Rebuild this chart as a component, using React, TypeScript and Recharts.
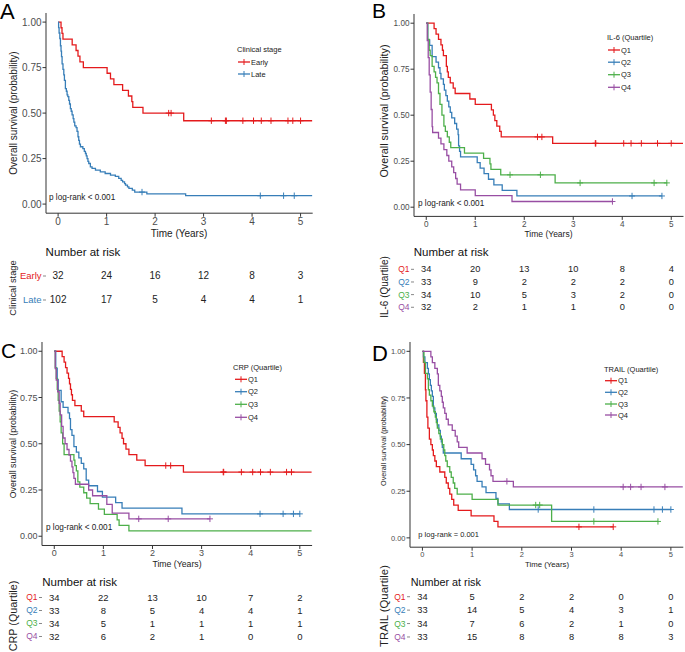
import React from 'react';
import { ComposedChart, Line, XAxis, YAxis, ScatterChart, Scatter } from 'recharts';

const FONT = '"Liberation Sans", Arial, Helvetica, sans-serif';
const RED = '#E41A1C';
const BLUE = '#377EB8';
const GREEN = '#4DAF4A';
const PURPLE = '#984EA3';

const yearTicks = [0, 1, 2, 3, 4, 5];
const survTicks = [0, 0.25, 0.5, 0.75, 1];
const riskTimes = [0, 1, 2, 3, 4, 5];
const quartiles = ['Q1', 'Q2', 'Q3', 'Q4'];

// ---------- Panel A : clinical stage ----------
const aGroups = ['Early', 'Late'];
const aEarlyT = [0, 0.06, 0.08, 0.10, 0.29, 0.37, 0.41, 0.45, 0.52, 1.01, 1.08, 1.15, 1.33, 1.45, 1.52, 1.54, 1.75, 2.59];
const aEarlyS = [1, 0.969, 0.938, 0.906, 0.875, 0.844, 0.813, 0.781, 0.75, 0.719, 0.688, 0.656, 0.625, 0.594, 0.563, 0.531, 0.5, 0.458];
const aEarlyC = [2.28, 2.33, 3.16, 3.45, 3.47, 3.81, 4.03, 4.19, 4.39, 4.74, 4.84, 5.0];
const aEarlyEnd = 5.24;
const aLateT = [0, 0.01, 0.02, 0.035, 0.048, 0.06, 0.07, 0.082, 0.1, 0.117, 0.13, 0.15, 0.17, 0.185, 0.2, 0.22, 0.235, 0.253, 0.27, 0.288, 0.31, 0.325, 0.343, 0.37, 0.39, 0.41, 0.425, 0.44, 0.46, 0.51, 0.54, 0.563, 0.58, 0.597, 0.615, 0.632, 0.665, 0.7, 0.77, 0.87, 0.97, 1.08, 1.18, 1.25, 1.3, 1.33, 1.37, 1.39, 1.43, 1.46, 1.53, 1.58, 1.83, 2.63];
const aLateS = [1, 0.97, 0.94, 0.91, 0.87, 0.84, 0.81, 0.77, 0.74, 0.71, 0.68, 0.635, 0.62, 0.6, 0.59, 0.57, 0.55, 0.525, 0.51, 0.49, 0.47, 0.45, 0.43, 0.42, 0.4, 0.37, 0.35, 0.33, 0.315, 0.305, 0.29, 0.278, 0.265, 0.25, 0.235, 0.223, 0.205, 0.196, 0.187, 0.177, 0.168, 0.159, 0.152, 0.141, 0.13, 0.122, 0.112, 0.104, 0.095, 0.086, 0.077, 0.066, 0.056, 0.046];
const aLateC = [1.73, 4.17, 4.65, 4.87];
const aLateEnd = 5.24;
const aRiskEarly = [32, 24, 16, 12, 8, 3];
const aRiskLate = [102, 17, 5, 4, 4, 1];

// ---------- Panel B : IL-6 ----------
const bQ1T = [0, 0.16, 0.2, 0.25, 0.3, 0.33, 0.35, 0.41, 0.43, 0.45, 0.49, 0.55, 0.59, 0.89, 1.0, 1.33, 1.37, 1.4, 1.44, 1.5, 1.53, 2.58];
const bQ1S = [1, 0.971, 0.941, 0.912, 0.882, 0.853, 0.824, 0.765, 0.735, 0.706, 0.676, 0.647, 0.618, 0.588, 0.559, 0.529, 0.5, 0.471, 0.441, 0.412, 0.382, 0.347];
const bQ1C = [2.27, 2.36, 3.45, 3.46, 4.03, 4.18, 4.39, 4.72, 5.0];
const bQ1End = 5.24;
const bQ2T = [0, 0.03, 0.07, 0.12, 0.2, 0.25, 0.28, 0.3, 0.35, 0.37, 0.4, 0.43, 0.46, 0.49, 0.52, 0.58, 0.62, 0.65, 0.66, 0.68, 0.7, 1.04, 1.1, 1.18, 1.27, 1.38, 1.55, 1.85];
const bQ2S = [1, 0.909, 0.879, 0.818, 0.788, 0.758, 0.727, 0.697, 0.667, 0.636, 0.606, 0.576, 0.545, 0.515, 0.485, 0.455, 0.424, 0.394, 0.333, 0.303, 0.273, 0.242, 0.212, 0.182, 0.152, 0.121, 0.091, 0.061];
const bQ2C = [4.2, 4.81];
const bQ2End = 4.81;
const bQ3T = [0, 0.03, 0.06, 0.08, 0.12, 0.16, 0.19, 0.22, 0.25, 0.28, 0.32, 0.36, 0.39, 0.43, 0.47, 0.5, 0.78, 1.17, 1.3, 1.32, 1.52, 2.63];
const bQ3S = [1, 0.912, 0.853, 0.824, 0.765, 0.735, 0.706, 0.676, 0.618, 0.559, 0.5, 0.441, 0.412, 0.382, 0.353, 0.324, 0.294, 0.265, 0.235, 0.206, 0.176, 0.132];
const bQ3C = [1.71, 2.33, 3.14, 4.65, 4.91];
const bQ3End = 4.91;
const bQ4T = [0, 0.02, 0.04, 0.06, 0.08, 0.1, 0.12, 0.13, 0.25, 0.3, 0.36, 0.42, 0.46, 0.52, 0.56, 0.6, 0.63, 0.7, 1.0, 1.75];
const bQ4S = [1, 0.906, 0.813, 0.719, 0.625, 0.531, 0.438, 0.406, 0.375, 0.344, 0.313, 0.281, 0.25, 0.219, 0.188, 0.156, 0.125, 0.094, 0.063, 0.031];
const bQ4C = [3.8];
const bQ4End = 3.8;
const bRisk = [
  [34, 20, 13, 10, 8, 4],
  [33, 9, 2, 2, 2, 0],
  [34, 10, 5, 3, 2, 0],
  [32, 2, 1, 1, 0, 0],
];

// ---------- Panel C : CRP ----------
const cQ1T = [0, 0.16, 0.2, 0.23, 0.26, 0.29, 0.31, 0.33, 0.35, 0.37, 0.42, 0.55, 0.6, 1.22, 1.3, 1.34, 1.38, 1.41, 1.46, 1.52, 1.68, 1.85, 2.63];
const cQ1S = [1, 0.971, 0.941, 0.912, 0.882, 0.853, 0.824, 0.794, 0.765, 0.735, 0.706, 0.676, 0.647, 0.618, 0.588, 0.559, 0.529, 0.5, 0.471, 0.441, 0.412, 0.382, 0.347];
const cQ1C = [2.27, 2.37, 3.44, 3.45, 3.81, 4.04, 4.2, 4.4, 4.73, 4.83];
const cQ1End = 5.24;
const cQ2T = [0, 0.03, 0.06, 0.08, 0.14, 0.18, 0.28, 0.31, 0.33, 0.36, 0.4, 0.45, 0.5, 0.55, 0.6, 0.65, 0.7, 0.88, 0.98, 1.25, 1.38, 2.6];
const cQ2S = [1, 0.909, 0.848, 0.788, 0.727, 0.697, 0.667, 0.636, 0.576, 0.545, 0.485, 0.455, 0.424, 0.394, 0.364, 0.303, 0.273, 0.242, 0.212, 0.182, 0.152, 0.121];
const cQ2C = [4.19, 4.66, 4.87, 5.0];
const cQ2End = 5.0;
const cQ3T = [0, 0.02, 0.04, 0.06, 0.08, 0.1, 0.12, 0.14, 0.17, 0.2, 0.4, 0.42, 0.45, 0.48, 0.52, 0.6, 0.66, 0.73, 0.9, 1.02, 1.28, 1.32, 1.52];
const cQ3S = [1, 0.912, 0.853, 0.794, 0.735, 0.676, 0.618, 0.559, 0.5, 0.441, 0.412, 0.382, 0.353, 0.294, 0.265, 0.235, 0.206, 0.176, 0.147, 0.118, 0.088, 0.059, 0.029];
const cQ3C: number[] = [];
const cQ3End = 5.24;
const cQ4T = [0, 0.02, 0.04, 0.07, 0.1, 0.12, 0.15, 0.18, 0.22, 0.26, 0.3, 0.33, 0.36, 0.38, 0.4, 0.43, 0.7, 0.78, 1.07, 1.18, 1.52];
const cQ4S = [1, 0.906, 0.844, 0.781, 0.719, 0.656, 0.594, 0.531, 0.5, 0.469, 0.438, 0.406, 0.375, 0.344, 0.313, 0.281, 0.25, 0.219, 0.172, 0.125, 0.094];
const cQ4C = [1.72, 2.32, 3.17];
const cQ4End = 3.17;
const cRisk = [
  [34, 22, 13, 10, 7, 2],
  [33, 8, 5, 4, 4, 1],
  [34, 5, 1, 1, 1, 1],
  [32, 6, 2, 1, 0, 0],
];

// ---------- Panel D : TRAIL ----------
const dQ1T = [0, 0.02, 0.04, 0.06, 0.07, 0.09, 0.11, 0.14, 0.17, 0.2, 0.22, 0.25, 0.28, 0.35, 0.45, 0.48, 0.52, 0.55, 0.59, 0.63, 0.72, 0.98, 1.44, 1.52];
const dQ1S = [1, 0.941, 0.882, 0.794, 0.735, 0.647, 0.588, 0.529, 0.5, 0.471, 0.441, 0.412, 0.382, 0.353, 0.324, 0.294, 0.265, 0.235, 0.206, 0.176, 0.147, 0.118, 0.088, 0.059];
const dQ1C = [3.15, 3.84];
const dQ1End = 3.84;
const dQ2T = [0, 0.02, 0.05, 0.1, 0.12, 0.14, 0.16, 0.18, 0.2, 0.22, 0.25, 0.28, 0.3, 0.33, 0.36, 0.38, 0.4, 0.42, 0.78, 0.98, 1.03, 1.07, 1.1, 1.2, 1.28, 1.48, 1.52, 1.75];
const dQ2S = [1, 0.97, 0.939, 0.909, 0.879, 0.848, 0.818, 0.788, 0.758, 0.697, 0.667, 0.636, 0.606, 0.576, 0.545, 0.515, 0.485, 0.455, 0.424, 0.394, 0.364, 0.333, 0.303, 0.273, 0.242, 0.212, 0.182, 0.152];
const dQ2C = [2.33, 3.45, 4.66, 4.83, 5.0];
const dQ2End = 5.0;
const dQ3T = [0, 0.03, 0.06, 0.1, 0.12, 0.14, 0.17, 0.2, 0.23, 0.26, 0.28, 0.3, 0.33, 0.36, 0.4, 0.43, 0.45, 0.47, 0.5, 0.55, 0.58, 0.62, 0.65, 0.7, 1.0, 1.52, 2.6];
const dQ3S = [1, 0.941, 0.882, 0.853, 0.794, 0.765, 0.735, 0.706, 0.676, 0.647, 0.618, 0.588, 0.559, 0.529, 0.5, 0.471, 0.441, 0.412, 0.382, 0.353, 0.324, 0.294, 0.265, 0.235, 0.206, 0.176, 0.088];
const dQ3C = [2.28, 2.36, 3.45, 4.74];
const dQ3End = 4.74;
const dQ4T = [0, 0.17, 0.2, 0.25, 0.3, 0.32, 0.35, 0.38, 0.4, 0.42, 0.45, 0.48, 0.52, 0.6, 0.66, 0.7, 0.73, 0.9, 1.2, 1.27, 1.35, 1.38, 1.42, 1.83];
const dQ4S = [1, 0.97, 0.939, 0.909, 0.879, 0.818, 0.788, 0.758, 0.727, 0.697, 0.667, 0.636, 0.606, 0.576, 0.545, 0.515, 0.485, 0.455, 0.424, 0.394, 0.364, 0.333, 0.303, 0.273];
const dQ4C = [1.7, 4.04, 4.19, 4.4, 4.88];
const dQ4End = 5.24;
const dRisk = [
  [34, 5, 2, 2, 0, 0],
  [33, 14, 5, 4, 3, 1],
  [34, 7, 6, 2, 1, 0],
  [33, 15, 8, 8, 8, 3],
];

// ---------- helpers ----------
type Series = { name: string; color: string; t: number[]; s: number[]; cens: number[]; end: number };
type Pt = { t: number; s: number; c: boolean };

function stepValue(se: Series, x: number) {
  let v = se.s[0];
  for (let i = 0; i < se.t.length; i++) if (se.t[i] <= x) v = se.s[i];
  return v;
}

function buildLine(se: Series): Pt[] {
  const pts: Pt[] = se.t.map((t, i) => ({ t, s: se.s[i], c: false }));
  se.cens.forEach((x) => pts.push({ t: x, s: stepValue(se, x), c: true }));
  pts.push({ t: se.end, s: stepValue(se, se.end), c: false });
  pts.sort((a, b) => a.t - b.t);
  return pts;
}

const mk = (name: string, color: string, t: number[], s: number[], cens: number[], end: number): Series => ({ name, color, t, s, cens, end });

const qColors = [RED, BLUE, GREEN, PURPLE];

const panelA = {
  series: [mk('Early', RED, aEarlyT, aEarlyS, aEarlyC, aEarlyEnd), mk('Late', BLUE, aLateT, aLateS, aLateC, aLateEnd)],
  groups: aGroups, colors: [RED, BLUE], risk: [aRiskEarly, aRiskLate],
  legendTitle: 'Clinical stage', tableTitle: 'Clinical stage', letter: 'A', pval: 'p log-rank < 0.001',
};
const panelB = {
  series: [mk('Q1', RED, bQ1T, bQ1S, bQ1C, bQ1End), mk('Q2', BLUE, bQ2T, bQ2S, bQ2C, bQ2End), mk('Q3', GREEN, bQ3T, bQ3S, bQ3C, bQ3End), mk('Q4', PURPLE, bQ4T, bQ4S, bQ4C, bQ4End)],
  groups: quartiles, colors: qColors, risk: bRisk,
  legendTitle: 'IL-6 (Quartile)', tableTitle: 'IL-6 (Quartile)', letter: 'B', pval: 'p log-rank < 0.001',
};
const panelC = {
  series: [mk('Q1', RED, cQ1T, cQ1S, cQ1C, cQ1End), mk('Q2', BLUE, cQ2T, cQ2S, cQ2C, cQ2End), mk('Q3', GREEN, cQ3T, cQ3S, cQ3C, cQ3End), mk('Q4', PURPLE, cQ4T, cQ4S, cQ4C, cQ4End)],
  groups: quartiles, colors: qColors, risk: cRisk,
  legendTitle: 'CRP (Quartile)', tableTitle: 'CRP (Quartile)', letter: 'C', pval: 'p log-rank < 0.001',
};
const panelD = {
  series: [mk('Q1', RED, dQ1T, dQ1S, dQ1C, dQ1End), mk('Q2', BLUE, dQ2T, dQ2S, dQ2C, dQ2End), mk('Q3', GREEN, dQ3T, dQ3S, dQ3C, dQ3End), mk('Q4', PURPLE, dQ4T, dQ4S, dQ4C, dQ4End)],
  groups: quartiles, colors: qColors, risk: dRisk,
  legendTitle: 'TRAIL (Quartile)', tableTitle: 'TRAIL (Quartile)', letter: 'D', pval: 'p log-rank = 0.001',
};

// layout (pixel geometry only)
const layoutA = {
  x0: 45.6, x1: 312.3, y0: 13.2, y1: 213.4, tickFs: 10,
  letter: { x: 0, y: 19, fs: 22 }, yTitle: { x: 13, y: 113, fs: 10 }, xTitle: { x: 179, y: 233, fs: 10 },
  pval: { x: 49, y: 197, fs: 8.2 },
  legend: { tx: 237, ty: 49.5, gx: 238, lx: 251, ys: [62, 74], fs: 7.5 },
  nar: { x: 45.6, y: 252, fs: 11.5 },
  table: { rt: 264, rb: 312, labFs: 9.5, numFs: 10 }, tTitle: { x: 12.5, y: 288, fs: 9.3 },
};
const layoutB = {
  x0: 413.75, x1: 683.25, y0: 13.5, y1: 215.9, tickFs: 8.2,
  letter: { x: 372, y: 18, fs: 21 }, yTitle: { x: 384, y: 111, fs: 10.8 }, xTitle: { x: 548.5, y: 234, fs: 8.5 },
  pval: { x: 418, y: 203.5, fs: 8.2 },
  legend: { tx: 607, ty: 37.7, gx: 608, lx: 621, ys: [50, 62.2, 74.7, 87.3], fs: 7.5 },
  nar: { x: 413.75, y: 251.7, fs: 11.5 },
  table: { rt: 262.7, rb: 313.3, labFs: 8.5, numFs: 9.3 }, tTitle: { x: 384, y: 287, fs: 10 },
};
const layoutC = {
  x0: 42, x1: 312.1, y0: 342.45, y1: 545.95, tickFs: 9,
  letter: { x: 1, y: 358, fs: 21 }, yTitle: { x: 12.5, y: 444, fs: 8.8 }, xTitle: { x: 177, y: 564.3, fs: 8.7 },
  pval: { x: 46, y: 527.7, fs: 8.2 },
  legend: { tx: 233, ty: 367.7, gx: 235, lx: 248, ys: [379.3, 391.7, 404.3, 417.3], fs: 7.5 },
  nar: { x: 42.3, y: 581.7, fs: 11.5 },
  table: { rt: 591.2, rb: 643.2, labFs: 8.5, numFs: 9.5 }, tTitle: { x: 12.5, y: 616, fs: 10.8 },
};
const layoutD = {
  x0: 410.3, x1: 683.6, y0: 342.4, y1: 547.6, tickFs: 7.5,
  letter: { x: 372, y: 361, fs: 22 }, yTitle: { x: 383.5, y: 441, fs: 7.3 }, xTitle: { x: 547, y: 564, fs: 7.8 },
  pval: { x: 418.3, y: 534.3, fs: 7.5 },
  legend: { tx: 604, ty: 369.3, gx: 605, lx: 618, ys: [380.7, 392.3, 404, 415], fs: 7.5 },
  nar: { x: 410.7, y: 581.7, fs: 10.8 },
  table: { rt: 590.3, rb: 644, labFs: 8.5, numFs: 9.3 }, tTitle: { x: 384, y: 606, fs: 11.3 },
};

const YW = 40;

function censorDot(color: string) {
  return (p: any) => {
    const { cx, cy, payload, index } = p;
    if (!payload || !payload.c || cx == null || cy == null) return <g key={`n${index}`} />;
    return (
      <path key={`c${index}`} d={`M${cx - 3},${cy}H${cx + 3}M${cx},${cy - 3.2}V${cy + 3.2}`} stroke={color} strokeWidth={1} fill="none" />
    );
  };
}

function KMChart({ L, series }: { L: any; series: Series[] }) {
  const xh = 24, mt = 4, mr = 2;
  const W = L.x1 - L.x0 + YW + mr;
  const H = L.y1 - L.y0 + mt + xh;
  const tickStyle = { fill: '#4d4d4d', fontSize: L.tickFs, fontFamily: FONT };
  return (
    <div style={{ position: 'absolute', left: L.x0 - YW, top: L.y0 - mt }}>
      <ComposedChart width={W} height={H} margin={{ top: mt, right: mr, bottom: 0, left: 0 }}>
        <XAxis type="number" dataKey="t" domain={[-0.25, 5.25]} ticks={yearTicks} interval={0} allowDataOverflow
          height={xh} tickSize={3.5} tickMargin={1} stroke="#333" tick={tickStyle} />
        <YAxis type="number" dataKey="s" domain={[-0.05, 1.05]} ticks={survTicks} interval={0} allowDataOverflow
          width={YW} tickSize={3.5} tickMargin={1} stroke="#333" tick={tickStyle}
          tickFormatter={(v: number) => v.toFixed(2)} />
        {series.map((se) => (
          <Line key={se.name} data={buildLine(se)} dataKey="s" type="stepAfter" stroke={se.color} strokeWidth={1.3}
            dot={censorDot(se.color)} activeDot={false} isAnimationActive={false} />
        ))}
      </ComposedChart>
    </div>
  );
}

function RiskTable({ L, groups, colors, risk }: { L: any; groups: string[]; colors: string[]; risk: number[][] }) {
  const rows: { t: number; r: number; n: number }[] = [];
  risk.forEach((arr, r) => arr.forEach((n, i) => rows.push({ t: riskTimes[i], r, n })));
  const mr = 2;
  const W = L.x1 - L.x0 + YW + mr;
  const H = L.table.rb - L.table.rt;
  return (
    <div style={{ position: 'absolute', left: L.x0 - YW, top: L.table.rt }}>
      <ScatterChart width={W} height={H} margin={{ top: 0, right: mr, bottom: 0, left: 0 }}>
        <XAxis type="number" dataKey="t" domain={[-0.25, 5.25]} hide allowDataOverflow />
        <YAxis type="number" dataKey="r" domain={[-0.5, groups.length - 0.5]} reversed allowDataOverflow
          ticks={groups.map((_, i) => i)} interval={0} width={YW} axisLine={false} tickSize={3} tickMargin={1.5}
          tickLine={{ stroke: '#888' }}
          tick={(p: any) => (
            <text key={`tk${p.payload.value}`} x={p.x} y={p.y} textAnchor="end" dominantBaseline="central"
              fill={colors[p.payload.value]} fontSize={L.table.labFs} fontFamily={FONT}>
              {groups[p.payload.value]}
            </text>
          )} />
        <Scatter data={rows} isAnimationActive={false}
          shape={(p: any) => (
            <text x={p.cx} y={p.cy} textAnchor="middle" dominantBaseline="central" fill="#222"
              fontSize={L.table.numFs} fontFamily={FONT}>{p.payload.n}</text>
          )} />
      </ScatterChart>
    </div>
  );
}

function Texts({ L, P }: { L: any; P: any }) {
  const lg = L.legend;
  return (
    <g fontFamily={FONT}>
      <text x={L.letter.x} y={L.letter.y} fontSize={L.letter.fs} fill="#000">{P.letter}</text>
      <text x={L.yTitle.x} y={L.yTitle.y} fontSize={L.yTitle.fs} fill="#222" textAnchor="middle" dominantBaseline="central"
        transform={`rotate(-90 ${L.yTitle.x} ${L.yTitle.y})`}>Overall survival (probability)</text>
      <text x={L.xTitle.x} y={L.xTitle.y} fontSize={L.xTitle.fs} fill="#222" textAnchor="middle" dominantBaseline="central">Time (Years)</text>
      <text x={L.pval.x} y={L.pval.y} fontSize={L.pval.fs} fill="#222" dominantBaseline="central">{P.pval}</text>
      <text x={lg.tx} y={lg.ty} fontSize={lg.fs} fill="#222" dominantBaseline="central">{P.legendTitle}</text>
      {P.groups.map((g: string, i: number) => (
        <g key={g}>
          <line x1={lg.gx} x2={lg.gx + 12} y1={lg.ys[i]} y2={lg.ys[i]} stroke={P.colors[i]} strokeWidth={1.3} />
          <line x1={lg.gx + 6} x2={lg.gx + 6} y1={lg.ys[i] - 3} y2={lg.ys[i] + 3} stroke={P.colors[i]} strokeWidth={1} />
          <text x={lg.lx} y={lg.ys[i]} fontSize={lg.fs} fill="#222" dominantBaseline="central">{g}</text>
        </g>
      ))}
      <text x={L.nar.x} y={L.nar.y} fontSize={L.nar.fs} fill="#111" dominantBaseline="central">Number at risk</text>
      <text x={L.tTitle.x} y={L.tTitle.y} fontSize={L.tTitle.fs} fill="#222" textAnchor="middle" dominantBaseline="central"
        transform={`rotate(-90 ${L.tTitle.x} ${L.tTitle.y})`}>{P.tableTitle}</text>
    </g>
  );
}

const panels = [
  { P: panelA, L: layoutA },
  { P: panelB, L: layoutB },
  { P: panelC, L: layoutC },
  { P: panelD, L: layoutD },
];

export default function App() {
  return (
    <div style={{ position: 'absolute', left: 0, top: 0, width: 685, height: 652, overflow: 'hidden', background: '#fff', fontFamily: FONT }}>
      {panels.map(({ P, L }) => (
        <React.Fragment key={P.letter}>
          <KMChart L={L} series={P.series} />
          <RiskTable L={L} groups={P.groups} colors={P.colors} risk={P.risk} />
        </React.Fragment>
      ))}
      <svg width={685} height={652} style={{ position: 'absolute', left: 0, top: 0, pointerEvents: 'none' }}>
        {panels.map(({ P, L }) => (
          <Texts key={P.letter} L={L} P={P} />
        ))}
      </svg>
    </div>
  );
}
